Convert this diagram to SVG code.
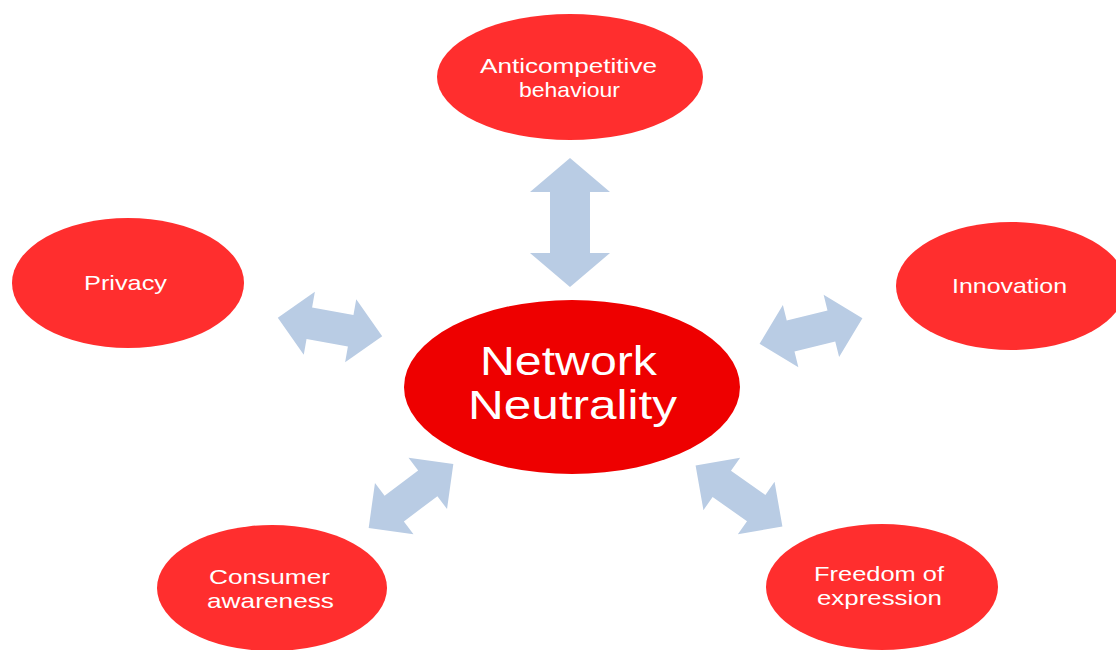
<svg xmlns="http://www.w3.org/2000/svg" width="1116" height="650" viewBox="0 0 1116 650">
<style>
.outer{fill:#ff2e2e}
.center{fill:#ee0000}
.arrow{fill:#b9cce4}
.lbl{font-family:"Liberation Sans",Arial,sans-serif;font-size:21px;fill:#ffffff;text-anchor:middle}
.big{font-family:"Liberation Sans",Arial,sans-serif;font-size:40px;fill:#ffffff;text-anchor:middle}
</style>
<defs>
<path id="sa" d="M-53,0 L-21,-32 L-21,-16 L21,-16 L21,-32 L53,0 L21,32 L21,16 L-21,16 L-21,32 Z"/>
</defs>
<rect width="1116" height="650" fill="#ffffff"/>
<g id="connectors" class="arrow">
<path d="M-64.5,0 L-30.5,-40 L-30.5,-20 L30.5,-20 L30.5,-40 L64.5,0 L30.5,40 L30.5,20 L-30.5,20 L-30.5,40 Z" transform="translate(570,222.5) rotate(90)"/>
<use href="#sa" transform="translate(330,327) rotate(10)"/>
<use href="#sa" transform="translate(811,331) rotate(-14)"/>
<use href="#sa" transform="translate(411,496) rotate(-37)"/>
<use href="#sa" transform="translate(739,496) rotate(35)"/>
</g>
<g id="anticompetitive">
<ellipse class="outer" cx="570" cy="77" rx="133" ry="63"/>
<text class="lbl" x="568.5" y="73" textLength="177" lengthAdjust="spacingAndGlyphs">Anticompetitive</text>
<text class="lbl" x="569.5" y="97" textLength="101" lengthAdjust="spacingAndGlyphs">behaviour</text>
</g>
<g id="privacy">
<ellipse class="outer" cx="128" cy="283" rx="116" ry="65"/>
<text class="lbl" x="125.5" y="290" textLength="83" lengthAdjust="spacingAndGlyphs">Privacy</text>
</g>
<g id="innovation">
<ellipse class="outer" cx="1011" cy="286" rx="115" ry="64"/>
<text class="lbl" x="1009.5" y="293" textLength="115" lengthAdjust="spacingAndGlyphs">Innovation</text>
</g>
<g id="consumer">
<ellipse class="outer" cx="272" cy="588" rx="115" ry="63"/>
<text class="lbl" x="269.5" y="584" textLength="121" lengthAdjust="spacingAndGlyphs">Consumer</text>
<text class="lbl" x="270.5" y="608" textLength="127" lengthAdjust="spacingAndGlyphs">awareness</text>
</g>
<g id="freedom">
<ellipse class="outer" cx="882" cy="587" rx="116" ry="63"/>
<text class="lbl" x="879" y="581" textLength="130" lengthAdjust="spacingAndGlyphs">Freedom of</text>
<text class="lbl" x="879.5" y="605" textLength="125" lengthAdjust="spacingAndGlyphs">expression</text>
</g>
<g id="network-neutrality">
<ellipse class="center" cx="572" cy="387" rx="168" ry="87"/>
<text class="big" x="568.5" y="375" textLength="177" lengthAdjust="spacingAndGlyphs">Network</text>
<text class="big" x="572.5" y="419" textLength="209" lengthAdjust="spacingAndGlyphs">Neutrality</text>
</g>
</svg>
